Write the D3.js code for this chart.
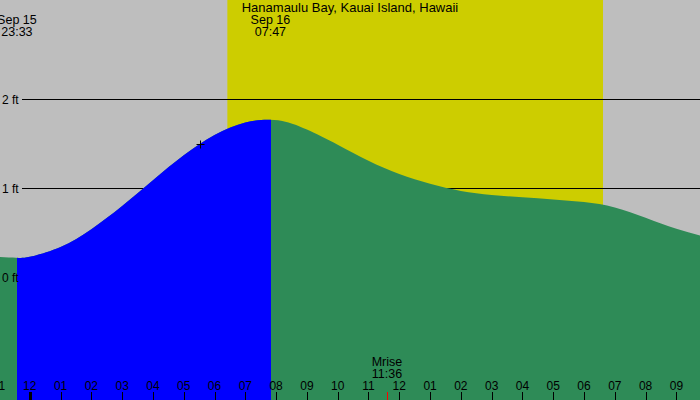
<!DOCTYPE html>
<html>
<head>
<meta charset="utf-8">
<script src="https://cdn.jsdelivr.net/npm/d3@7"></script>
<style>
	body { margin: 0; background: #fff; }
	svg text { font-family: "Liberation Sans", Arial, sans-serif; fill: #000; }
</style>
</head>
<body>
<svg id="plot" width="700" height="400"></svg>
<script>

const TITLE = 'Hanamaulu Bay, Kauai Island, Hawaii';

// tide heights (ft)
const TIDE_TIMES = ['Sep 15 23:00', 'Sep 15 23:33', 'Sep 16 00:00', 'Sep 16 01:00', 'Sep 16 02:00',
	'Sep 16 03:00', 'Sep 16 04:00', 'Sep 16 05:00', 'Sep 16 06:00', 'Sep 16 07:00', 'Sep 16 07:47',
	'Sep 16 08:20', 'Sep 16 09:00', 'Sep 16 10:00', 'Sep 16 11:00', 'Sep 16 12:00', 'Sep 16 13:00',
	'Sep 16 14:00', 'Sep 16 15:00', 'Sep 16 16:00', 'Sep 16 17:00', 'Sep 16 18:00', 'Sep 16 19:00',
	'Sep 16 20:00', 'Sep 16 21:00', 'Sep 16 22:00'];
const TIDE_HEIGHTS = [0.23, 0.22, 0.23, 0.34, 0.54,
	0.80, 1.09, 1.37, 1.60, 1.74, 1.77,
	1.745, 1.66, 1.49, 1.31, 1.16, 1.05,
	0.97, 0.925, 0.90, 0.875, 0.845, 0.785,
	0.67, 0.545, 0.45];

// low / high tide labelled at the top
const EXTREME_TIMES = ['Sep 15 23:33', 'Sep 16 07:47'];
const EXTREME_LABELS = [['Sep 15', '23:33'], ['Sep 16', '07:47']];

const SUNRISE = 'Sep 16 06:25';
const SUNSET = 'Sep 16 18:37';
const MOONRISE = 'Sep 16 11:36';

const FT_TICKS = [0, 1, 2];
const MARKER = {t: 'Sep 16 05:32', v: 1.50};

const parse = d3.timeParse('%b %d %H:%M');

whenDocumentLoaded(() => {

	const W = 700, H = 400;
	const svg = d3.select('#plot');

	const data = TIDE_TIMES.map((t, i) => ({t: parse(t), v: TIDE_HEIGHTS[i]}));

	const x = d3.scaleTime()
		.domain([parse('Sep 15 23:02'), parse('Sep 16 21:46')])
		.range([0, W]);

	const y = d3.scaleLinear()
		.domain([0, 2])
		.range([277.3, 99.3]);

	// night background, then daylight band
	svg.append('rect').attr('width', W).attr('height', H).style('fill', '#bebebe');
	svg.append('rect')
		.attr('x', x(parse(SUNRISE)))
		.attr('width', x(parse(SUNSET)) - x(parse(SUNRISE)))
		.attr('height', H)
		.style('fill', '#cdcd00');

	// height lines
	svg.append('g').selectAll('line')
		.data(FT_TICKS)
		.enter().append('line')
		.attr('x1', 22).attr('x2', W)
		.attr('y1', d => Math.round(y(d)) + 0.5).attr('y2', d => Math.round(y(d)) + 0.5)
		.style('stroke', '#000').style('stroke-width', 1);

	const area = d3.area()
		.x(d => x(d.t))
		.y0(H)
		.y1(d => y(d.v))
		.curve(d3.curveNatural);

	const low = parse(EXTREME_TIMES[0]), high = parse(EXTREME_TIMES[1]);

	svg.append('clipPath').attr('id', 'rising')
		.append('rect')
		.attr('x', x(low) + 1).attr('width', x(high) - x(low) + 0.5)
		.attr('y', 0).attr('height', H);

	svg.append('path').datum(data).attr('d', area).style('fill', '#2e8b57');
	svg.append('path').datum(data).attr('d', area)
		.attr('clip-path', 'url(#rising)')
		.style('fill', '#0000ff');

	// ft labels
	svg.append('g').selectAll('text')
		.data(FT_TICKS)
		.enter().append('text')
		.attr('x', 2)
		.attr('y', d => y(d))
		.attr('dy', '0.35em')
		.style('font-size', '12px')
		.text(d => d + ' ft');

	// marker
	const mx = Math.round(x(parse(MARKER.t))) + 0.5, my = Math.round(y(MARKER.v)) + 0.5;
	svg.append('path')
		.attr('d', `M${mx - 4},${my}H${mx + 4}M${mx},${my - 4}V${my + 4}`)
		.style('stroke', '#000').style('stroke-width', 1).style('fill', 'none');

	// title
	svg.append('text')
		.attr('x', 350).attr('y', 12)
		.attr('text-anchor', 'middle')
		.style('font-size', '13px')
		.text(TITLE);

	// extreme labels
	EXTREME_TIMES.forEach((t, i) => {
		const g = svg.append('text')
			.attr('text-anchor', 'middle')
			.style('font-size', '12.5px');
		EXTREME_LABELS[i].forEach((s, j) => {
			g.append('tspan').attr('x', x(parse(t)) + 1).attr('y', 24 + j * 12).text(s);
		});
	});

	// moonrise
	const mr = parse(MOONRISE);
	const mt = svg.append('text').attr('text-anchor', 'middle').style('font-size', '12.5px');
	mt.append('tspan').attr('x', x(mr)).attr('y', 366).text('Mrise');
	mt.append('tspan').attr('x', x(mr)).attr('y', 378).text(d3.timeFormat('%H:%M')(mr));

	// hour axis, starting from the hour cut by the left edge
	const hours = d3.timeHour.range(d3.timeHour.floor(x.domain()[0]), x.domain()[1]);
	svg.append('g').selectAll('line')
		.data(hours)
		.enter().append('line')
		.attr('x1', d => Math.round(x(d)) + 0.5).attr('x2', d => Math.round(x(d)) + 0.5)
		.attr('y1', 392).attr('y2', H)
		.style('stroke', '#000')
		.style('stroke-width', d => d.getHours() === 0 ? 3 : 1);

	svg.append('line')
		.attr('x1', Math.round(x(mr)) + 0.5).attr('x2', Math.round(x(mr)) + 0.5)
		.attr('y1', 392).attr('y2', H)
		.style('stroke', '#ff0000').style('stroke-width', 1);

	svg.append('g').selectAll('text')
		.data(hours)
		.enter().append('text')
		.attr('x', d => x(d))
		.attr('y', 390)
		.attr('text-anchor', 'middle')
		.style('font-size', '12px')
		.text(d => d3.timeFormat('%I')(d));
});

function whenDocumentLoaded(action) {
	if (document.readyState === 'loading') {
		document.addEventListener('DOMContentLoaded', action);
	} else {
		action();
	}
}
</script>
</body>
</html>
